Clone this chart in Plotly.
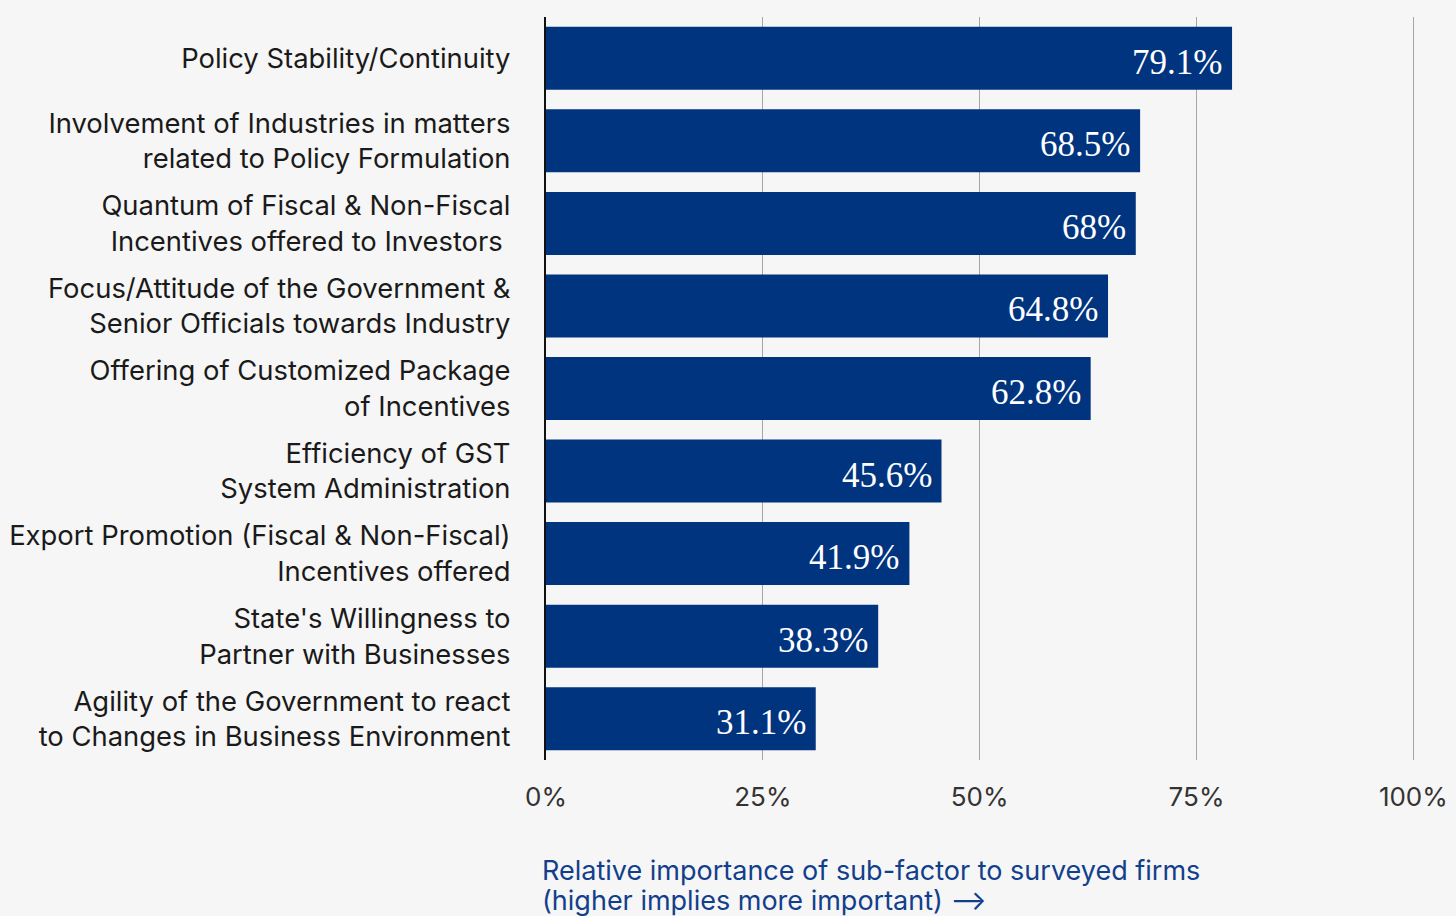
import plotly.graph_objects as go

# Sub-factors (top to bottom) and their relative importance (%)
factors = [
    "Policy Stability/Continuity",
    "Involvement of Industries in matters<br>related to Policy Formulation",
    "Quantum of Fiscal & Non-Fiscal<br>Incentives offered to Investors ",
    "Focus/Attitude of the Government &<br>Senior Officials towards Industry",
    "Offering of Customized Package<br>of Incentives",
    "Efficiency of GST<br>System Administration",
    "Export Promotion (Fiscal & Non-Fiscal)<br>Incentives offered",
    "State's Willingness to<br>Partner with Businesses",
    "Agility of the Government to react<br>to Changes in Business Environment",
]
values = [79.1, 68.5, 68.0, 64.8, 62.8, 45.6, 41.9, 38.3, 31.1]
value_labels = ["79.1%", "68.5%", "68%", "64.8%", "62.8%", "45.6%", "41.9%", "38.3%", "31.1%"]
tick_vals = [0, 25, 50, 75, 100]
tick_text = ["0%", "25%", "50%", "75%", "100%"]
caption_lines = [
    "Relative importance of sub-factor to surveyed firms",
    "(higher implies more important) ⟶",
]

BAR = "#00347f"
BG = "#f6f6f6"
TEXT = "#1a1a1a"
TITLE_BLUE = "#123f8c"

L, R, T, B = 546, 34, 17, 156
PLOT_W = 1456 - L - R
PLOT_H = 916 - T - B

fig = go.Figure(
    go.Bar(
        x=values,
        y=factors,
        orientation="h",
        marker=dict(color=BAR, line=dict(width=0)),
        hoverinfo="skip",
    )
)

# value labels inside the bar ends
for f, v, t in zip(factors, values, value_labels):
    fig.add_annotation(
        x=v, y=f, xref="x", yref="y",
        text=t, showarrow=False,
        xanchor="right", yanchor="middle", xshift=-8, yshift=-4,
        font=dict(family="Liberation Serif, serif", size=35, color="white"),
    )

# axis caption below the chart, one annotation per line
for i, line in enumerate(caption_lines):
    fig.add_annotation(
        x=-6 / PLOT_W, y=(PLOT_H + T - (870 + 30 * i)) / PLOT_H,
        xref="paper", yref="paper",
        text=line, showarrow=False, xanchor="left", yanchor="middle", align="left",
        font=dict(family="Inter, sans-serif", size=27, color=TITLE_BLUE),
    )

fig.update_layout(
    width=1456, height=916,
    margin=dict(l=L, r=R, t=T, b=B),
    paper_bgcolor=BG, plot_bgcolor=BG,
    bargap=0.237,
    showlegend=False,
    font=dict(family="Inter, sans-serif", color=TEXT),
    xaxis=dict(
        range=[0, 101],
        tickvals=tick_vals, ticktext=tick_text,
        showgrid=True, gridcolor="#a6a6a6", gridwidth=1,
        zeroline=False, showline=False, ticks="",
        tickfont=dict(family="Inter, sans-serif", size=26, color="#333333"),
        ticklabelstandoff=19,
        automargin=False,
        fixedrange=True,
    ),
    yaxis=dict(
        autorange="reversed",
        showgrid=False, zeroline=False,
        showline=True, linecolor="#111111", linewidth=2,
        ticks="",
        tickfont=dict(family="Inter, sans-serif", size=27.4, color=TEXT),
        ticklabelstandoff=28,
        automargin=False,
        fixedrange=True,
    ),
)

fig.write_html("out.html")
